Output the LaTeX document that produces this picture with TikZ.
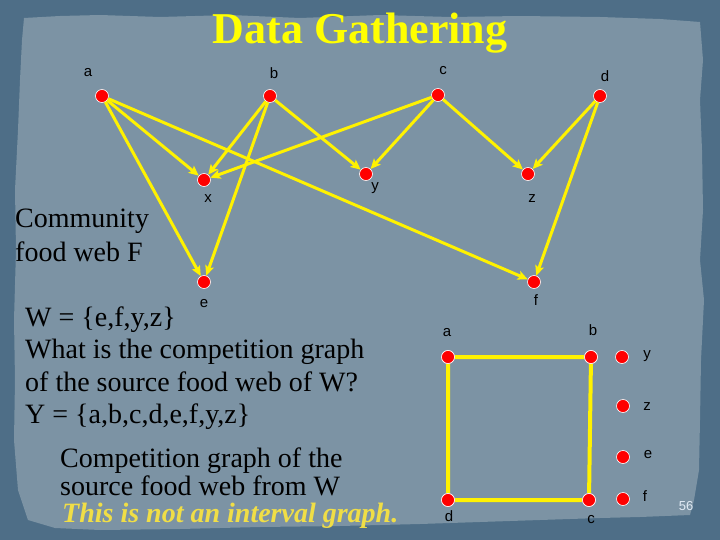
\documentclass[tikz,border=0pt]{standalone}
\usepackage{fontspec}
\setmainfont{Liberation Serif}
\newfontfamily\labfont{Liberation Sans}
\usetikzlibrary{arrows.meta}
\definecolor{outerbg}{RGB}{78,110,135}
\definecolor{paper}{RGB}{124,147,164}
\definecolor{ttl}{RGB}{255,255,0}
\definecolor{gold}{RGB}{240,222,70}
\definecolor{pagenum}{RGB}{225,235,245}
\tikzset{
  dot/.style={circle, fill=red, draw=white, line width=0.6pt, minimum size=13pt, inner sep=0pt},
  lab/.style={font=\labfont\fontsize{15}{15}\selectfont, text=black, inner sep=0pt},
  arr/.style={draw=yellow, line width=3pt, -{Stealth[length=10pt,width=9pt,inset=2pt]}},
  edge/.style={draw=yellow, line width=4pt},
  body/.style={font=\fontsize{28}{33}\selectfont, text=black, inner sep=0pt, anchor=base west}
}
\begin{document}
\begin{tikzpicture}[x=1pt,y=-1pt]
\useasboundingbox (0,0) rectangle (720,540);
\fill[outerbg] (0,0) rectangle (720,540);
\fill[paper] (24,18) -- (60,16) -- (100,15) -- (160,17) -- (230,15) -- (300,18) -- (380,15) -- (450,17) -- (520,16) -- (600,17) -- (660,19) -- (700,22)
  -- (703,60) -- (700,100) -- (702,150) -- (703,210) -- (700,260) -- (704,300) -- (701,360) -- (700,420) -- (699,470) -- (694,500) -- (690,515)
  -- (640,517) -- (600,518) -- (540,520) -- (480,522) -- (420,524) -- (340,526) -- (260,527) -- (180,529) -- (100,530) -- (55,528) -- (28,520)
  -- (18,490) -- (14,440) -- (15,380) -- (14,320) -- (16,250) -- (15,190) -- (18,130) -- (20,80) -- (22,40) -- cycle;

% title
\node[font=\bfseries\fontsize{44}{44}\selectfont, text=ttl, inner sep=0pt, anchor=base] (title) at (360,44) {Data Gathering};

% food web nodes
\node[dot] (a) at (102,96) {};
\node[dot] (b) at (270,96) {};
\node[dot] (c) at (438,95) {};
\node[dot] (d) at (600,96) {};
\node[dot] (x) at (204,180) {};
\node[dot] (y) at (366,174) {};
\node[dot] (z) at (528,174) {};
\node[dot] (e) at (204,282) {};
\node[dot] (f) at (534,282) {};

\node[lab] (la) at (88,73) {a};
\node[lab] (lb) at (274,73) {b};
\node[lab] (lc) at (443,71) {c};
\node[lab] (ld) at (605,76) {d};
\node[lab] (lx) at (208,199) {x};
\node[lab] (ly) at (375,188) {y};
\node[lab] (lz) at (532,199) {z};
\node[lab] (le) at (204,304) {e};
\node[lab] (lf) at (536,300) {f};

\draw[arr] (a) -- (x);
\draw[arr] (a) -- (e);
\draw[arr] (a) -- (f);
\draw[arr] (b) -- (x);
\draw[arr] (b) -- (e);
\draw[arr] (b) -- (y);
\draw[arr] (c) -- (x);
\draw[arr] (c) -- (y);
\draw[arr] (c) -- (z);
\draw[arr] (d) -- (z);
\draw[arr] (d) -- (f);

% competition graph
\node[dot] (ga) at (448,357) {};
\node[dot] (gb) at (591,357) {};
\node[dot] (gc) at (589,500) {};
\node[dot] (gd) at (448,500) {};
\node[dot] (gy) at (622,357) {};
\node[dot] (gz) at (623,406) {};
\node[dot] (ge) at (623,457) {};
\node[dot] (gf) at (623,499) {};
\draw[edge] (ga) -- (gb) -- (gc) -- (gd) -- (ga);
\node[dot] at (ga) {};
\node[dot] at (gb) {};
\node[dot] at (gc) {};
\node[dot] at (gd) {};

\node[lab] (lga) at (447,333) {a};
\node[lab] (lgb) at (593,330) {b};
\node[lab] (lgc) at (591,520) {c};
\node[lab] (lgd) at (449,516) {d};
\node[lab] (lgy) at (647,356) {y};
\node[lab] (lgz) at (647,407) {z};
\node[lab] (lge) at (648,455) {e};
\node[lab] (lgf) at (645,496) {f};

% texts
\node[body] (cw1) at (15,228) {Community};
\node[body] (cw2) at (15,261) {food web F};
\node[body] (q1) at (25,326) {W = \{e,f,y,z\}};
\node[body] (q2) at (25,358) {What is the competition graph};
\node[body] (q3) at (25,391) {of the source food web of W?};
\node[body] (q4) at (25,423) {Y = \{a,b,c,d,e,f,y,z\}};
\node[body] (cg1) at (60,467) {Competition graph of the};
\node[body] (cg2) at (60,495) {source food web from W};
\node[body, font=\bfseries\itshape\fontsize{28}{28}\selectfont, text=gold] (ni) at (62,522) {This is not an interval graph.};
\node[font=\labfont\fontsize{13}{13}\selectfont, text=pagenum, inner sep=0pt] (pg) at (686,506) {56};
\end{tikzpicture}
\end{document}
